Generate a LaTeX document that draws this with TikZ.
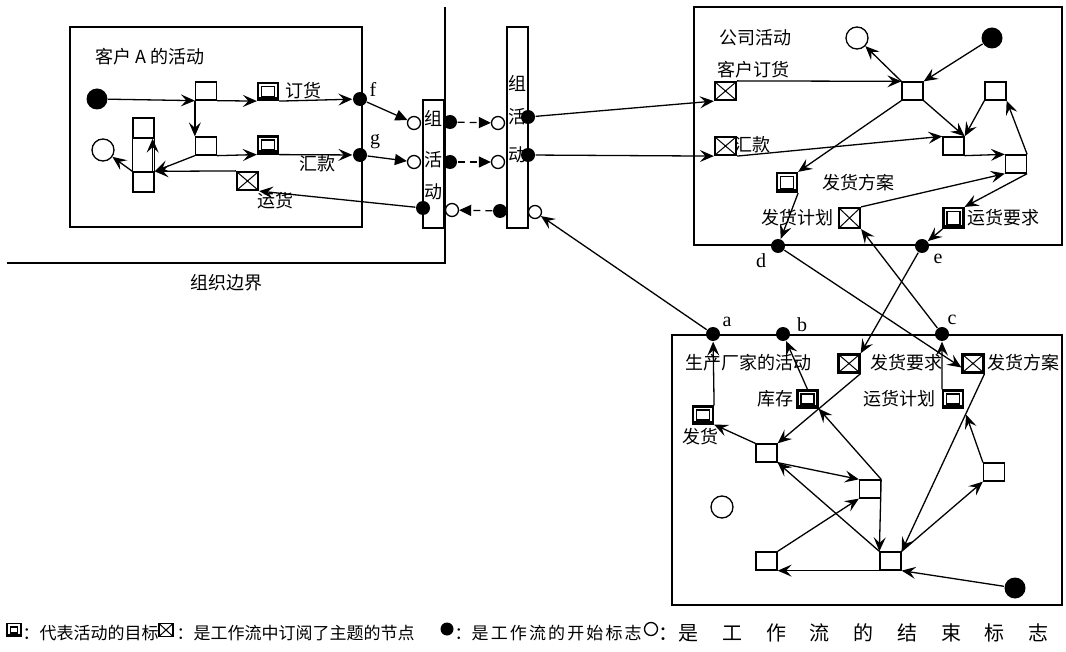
\documentclass[tikz,border=0pt]{standalone}
\usepackage{fontspec}
\setmainfont{Liberation Serif}
\newfontfamily\cjk{Noto Sans CJK SC}
\usetikzlibrary{arrows.meta}
\begin{document}
\begin{tikzpicture}[x=1pt,y=-1pt,line width=1.3pt,
  arr/.style={-{Stealth[length=14pt,width=12pt,inset=5.5pt]}},
  tri/.style={-{Triangle[length=12pt,width=11pt]}},
  act/.style={draw,rectangle,minimum width=21pt,minimum height=18pt,inner sep=0pt},
  goal/.style={draw,rectangle,minimum width=20pt,minimum height=17pt,inner sep=0pt,line width=2.2pt,
    path picture={\draw[line width=1.1pt] ([shift={(3.5pt,3.5pt)}]path picture bounding box.south west) rectangle ([shift={(-3.5pt,-3.5pt)}]path picture bounding box.north east);
      \fill (path picture bounding box.south west) rectangle ([shift={(0pt,3pt)}]path picture bounding box.south east);}},
  subs/.style={draw,rectangle,minimum width=21pt,minimum height=18pt,inner sep=0pt,line width=2.2pt,
    path picture={\draw[line width=1pt] (path picture bounding box.south west) -- (path picture bounding box.north east)
      (path picture bounding box.north west) -- (path picture bounding box.south east);}},
  dot/.style={circle,fill,inner sep=0pt,minimum size=14pt},
  bigdot/.style={circle,fill,inner sep=0pt,minimum size=21pt},
  ocirc/.style={circle,draw,fill=white,inner sep=0pt,minimum size=13pt},
  bigo/.style={circle,draw,fill=white,inner sep=0pt,minimum size=22pt},
  lab/.style={font=\cjk\fontsize{18}{20}\selectfont,inner sep=0pt},
  lat/.style={font=\fontsize{20}{22}\selectfont,inner sep=0pt},
  leg/.style={font=\cjk\fontsize{17}{19}\selectfont,inner sep=0pt,anchor=west}]
\fill[white] (0,0) rectangle (1066,652);
\useasboundingbox (0,0) rectangle (1066,652);

% organisation boundary
\draw (445,7) -- (445,263) -- (7,263);
\node[lab] (orgb) at (226,283) {组织边界};

% ---------- customer A ----------
\draw (70,27) rectangle (362,227);
\node[lab] (titA) at (150,57) {客户 A 的活动};
\node[bigdot] (startA) at (97,99) {};
\node[act] (sq1) at (206,91) {};
\node[act] (sq2) at (206,146) {};
\node[goal] (g1) at (268,91.5) {};
\node[goal] (g2) at (268,145) {};
\node[lab] (t1) at (303,91) {订货};
\node[lab] (t2) at (317,164) {汇款};
\node[dot] (f) at (360,99) {};
\node[dot] (g) at (360,155) {};
\node[lat] (fl) at (373,89) {f};
\node[lat] (gl) at (375,142) {g};
\node[act,minimum width=21pt,minimum height=20pt] (stT) at (143.5,128) {};
\node[act,minimum width=21pt,minimum height=20pt] (stB) at (143.5,182) {};
\draw (stT.south west) -- (stB.north west) (stT.south east) -- (stB.north east);
\node[bigo] (endA) at (103,150) {};
\node[subs] (s1) at (247.5,181) {};
\node[lab] (t3) at (275,201) {运货};

% ---------- left org column ----------
\draw (423,100) rectangle (444,228);
\node[lab] (c1a) at (433,118) {组};
\node[lab] (c1b) at (433,160) {活};
\node[lab] (c1c) at (433,192) {动};
\node[ocirc] (cL1) at (414,123) {};
\node[ocirc] (cL2) at (414,162) {};
\node[dot] (dL1) at (450,122) {};
\node[dot] (dL2) at (450,162) {};
\node[dot] (dL3) at (423,208) {};
\node[ocirc] (cL3) at (452,210) {};

% ---------- middle org column ----------
\draw (507,27) rectangle (528,228);
\node[lab] (c2a) at (517,83) {组};
\node[lab] (c2b) at (517,117) {活};
\node[lab] (c2c) at (517,155) {动};
\node[ocirc] (cM1) at (498,123) {};
\node[ocirc] (cM2) at (498,162) {};
\node[dot] (dM1) at (528,117) {};
\node[dot] (dM2) at (528,155) {};
\node[dot] (dM3) at (500,211) {};
\node[ocirc] (cM3) at (535,212) {};

% ---------- company ----------
\draw (694,7) rectangle (1062,245);
\node[lab] (titC) at (755,38) {公司活动};
\node[lab] (t4) at (753,70) {客户订货};
\node[subs] (s2) at (725.5,91) {};
\node[subs] (s3) at (725.5,146) {};
\node[lab] (t5) at (752,145) {汇款};
\node[bigo] (endC) at (857,38) {};
\node[bigdot] (startC) at (992,38) {};
\node[act] (sqA) at (912.5,91) {};
\node[act] (sqB) at (995.5,91) {};
\node[act] (sqC) at (953.5,146) {};
\node[act] (sqD) at (1016,164) {};
\node[goal,minimum height=19pt] (gC1) at (787,182.5) {};
\node[lab] (t6) at (858,183) {发货方案};
\node[subs,minimum height=20pt] (sC1) at (849.5,218) {};
\node[lab] (t7) at (797,218) {发货计划};
\node[goal,minimum height=20pt] (gC2) at (953.5,218) {};
\node[lab] (t8) at (1003,218) {运货要求};
\node[dot] (d) at (778,246) {};
\node[dot] (e) at (922,246) {};
\node[lat] (dl) at (761,261) {d};
\node[lat] (el) at (938,259) {e};

% ---------- manufacturer ----------
\draw (672,335) rectangle (1062,605);
\node[dot] (a) at (713,334) {};
\node[dot] (b) at (783,334) {};
\node[dot] (c) at (942,334) {};
\node[lat] (al) at (727,322) {a};
\node[lat] (bl) at (802,325) {b};
\node[lat] (cl) at (952,320) {c};
\node[lab] (titM) at (748,363) {生产厂家的活动};
\node[subs] (sM1) at (849,363.5) {};
\node[lab] (t9) at (906,363) {发货要求};
\node[subs] (sM2) at (973,363.5) {};
\node[lab] (t10) at (1023,363) {发货方案};
\node[goal] (gM1) at (807.5,399) {};
\node[lab] (t11) at (775,399) {库存};
\node[goal] (gM2) at (953,399) {};
\node[lab] (t12) at (899,399) {运货计划};
\node[goal] (gM3) at (703,415) {};
\node[lab] (t13) at (700,437) {发货};
\node[act] (m1) at (766.5,453) {};
\node[act] (m2) at (870,489) {};
\node[act] (m3) at (994,472) {};
\node[act] (m4) at (766.5,561) {};
\node[act] (m5) at (890.5,561) {};
\node[bigo] (endM) at (722,507) {};
\node[bigdot] (startM) at (1015,588) {};

% ---------- connectors: customer A ----------
\draw[arr] (startA) -- (sq1.south west);
\draw[arr] (sq1.south east) -- (g1.south west);
\draw[arr] (g1.south east) -- (f);
\draw[arr] (sq1.south west) -- (sq2.north west);
\draw[arr] (sq2.south east) -- (g2.south west);
\draw[arr] (g2.south east) -- (g);
\draw[arr] (sq2.south west) -- (stB.north east);
\draw[arr] (s1.north west) -- (stB.north east);
\draw[arr] ([xshift=-2pt]stB.north east) -- ([xshift=-2pt]stT.south east);
\draw[arr] (stB.north west) -- (endA);
\draw[arr] (dL3) -- (s1.south east);
\draw[tri] (f) -- (cL1);
\draw[tri] (g) -- (cL2);

% ---------- connectors: org columns ----------
\draw[tri,dash pattern=on 7pt off 5pt] (dL1) -- (cM1);
\draw[tri,dash pattern=on 7pt off 5pt] (dL2) -- (cM2);
\draw[tri,dash pattern=on 7pt off 5pt] (dM3) -- (cL3);
\draw[arr] (a) -- (cM3);
\draw[arr] (dM1) -- (s2.south west);
\draw[arr] (dM2) -- (s3.south west);

% ---------- connectors: company ----------
\draw[arr] (startC) -- (sqA.north east);
\draw[arr] (sqA.north west) -- (endC);
\draw[arr] (s2.north east) -- (sqA.north west);
\draw[arr] (sqA.south west) -- (gC1.north east);
\draw[arr] (sqA.south east) -- (sqC.north east);
\draw[arr] (sqB.south west) -- (sqC.north east);
\draw[arr] (s3.south east) -- (sqC.north west);
\draw[arr] (sqC.south east) -- (sqD.north west);
\draw[arr] (sqD.north east) -- (sqB.south east);
\draw[arr] (sC1.north east) -- (sqD.south west);
\draw[arr] (sqD.south east) -- (gC2.north east);
\draw[arr] (gC1.south east) -- (d);
\draw[arr] (gC2.south west) -- (e);
\draw[arr] (c) -- (sC1.south east);
\draw[arr] (e) -- (sM1.north east);
\draw[arr] (d) -- ([yshift=-4pt]sM2.west);

% ---------- connectors: manufacturer ----------
\draw[arr] (gM3.north east) -- (a);
\draw[arr] (m1.north west) -- (gM3.south east);
\draw[arr] (gM1.north) -- (b);
\draw[arr] (sM1.south east) -- (m1.north east);
\draw[arr] (m2.north east) -- (gM1.south east);
\draw[arr] (m2.north east) -- (m5.north west);
\draw[arr] (m1.south east) -- (m2.north west);
\draw[arr] (m5.north west) -- (m1.south east);
\draw[arr] (m4.north east) -- (m2.south west);
\draw[arr] (m5.south west) -- (m4.south east);
\draw[arr] (startM) -- (m5.south east);
\draw[arr] (sM2.south east) -- (m5.north east);
\draw[arr] (m3.north west) -- ([shift={(2pt,-6pt)}]gM2.south east);
\draw[arr] (m5.north east) -- (m3.south west);
\draw[arr] (gM2.north west) -- (c);

% ---------- legend ----------
\node[goal,minimum width=14pt,minimum height=13pt,line width=1.6pt] (lg1) at (14,630) {};
\node[leg] (lt1) at (22,633) {：代表活动的目标};
\node[subs,minimum width=14pt,minimum height=13pt,line width=1.6pt] (lg2) at (166,630) {};
\node[leg] (lt2) at (176,633) {：是工作流中订阅了主题的节点};
\node[dot,minimum size=13pt] (lg3) at (447,629) {};
\node[leg] (lt3) at (454,633) {：\makebox[170pt]{是\hfill 工\hfill 作\hfill 流\hfill 的\hfill 开\hfill 始\hfill 标\hfill 志}};
\node[ocirc,minimum size=13pt] (lg4) at (651,629) {};
\node[leg,font=\cjk\fontsize{20}{22}\selectfont] (lt4) at (658,633) {：\makebox[370pt]{是\hfill 工\hfill 作\hfill 流\hfill 的\hfill 结\hfill 束\hfill 标\hfill 志}};
\end{tikzpicture}
\end{document}
